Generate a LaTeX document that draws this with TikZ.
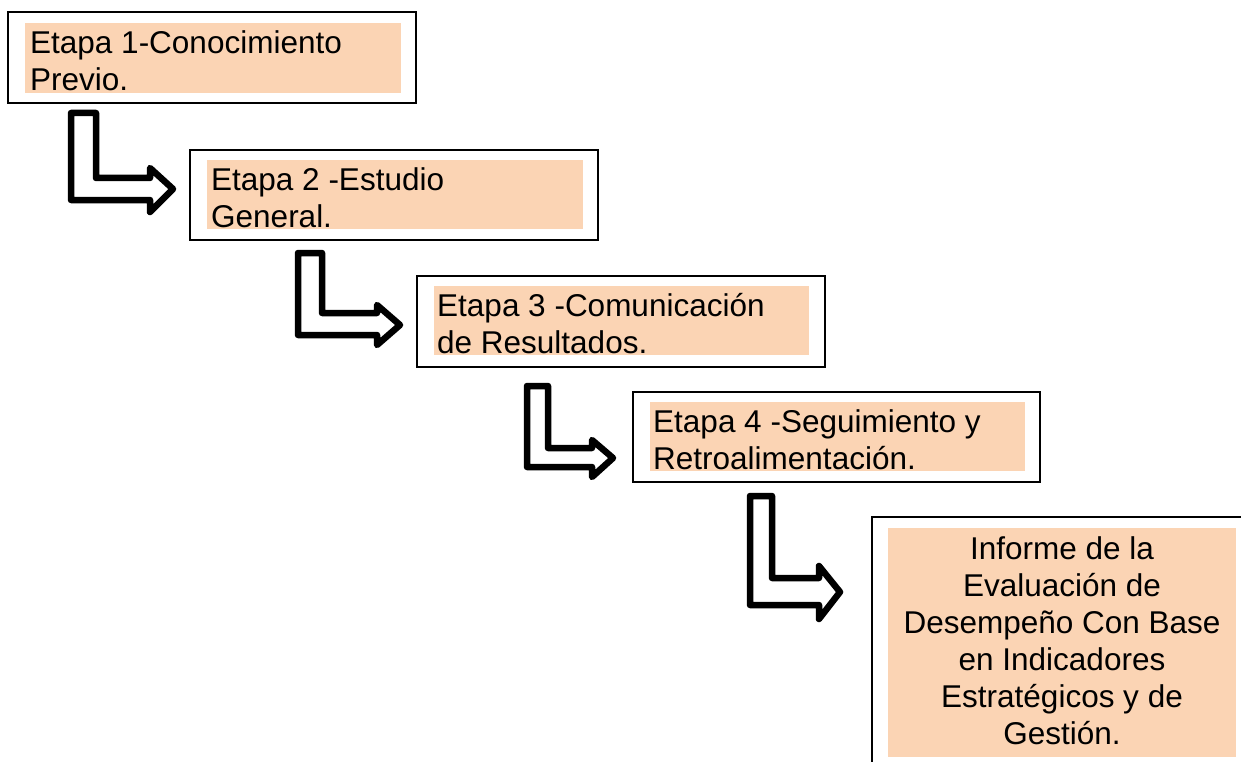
\documentclass[tikz,border=0pt]{standalone}
\usepackage{fontspec}
\setmainfont{Liberation Sans}
\definecolor{peach}{HTML}{FBD4B4}
\begin{document}
\begin{tikzpicture}[x=1pt,y=-1pt,
  outerbox/.style={draw=black,line width=1.6pt},
  fillbox/.style={fill=peach},
  label/.style={inner sep=0pt,anchor=north west,align=left,font=\fontsize{31.5}{37}\selectfont},
  blockarrow/.style={draw=black,line width=6.5pt,line join=round,fill=white}]
\useasboundingbox (0,0) rectangle (1241,762);
\begin{scope}
\clip (0,0) rectangle (1241,762);
% Box 1
\draw[outerbox] (8,12) rectangle (416,103);
\fill[fillbox] (25,23) rectangle (401,93);
\node[label] (t1) at (30,30) {Etapa 1-Conocimiento\\Previo.};
% Box 2
\draw[outerbox] (190,150) rectangle (598,240);
\fill[fillbox] (207,160) rectangle (583,229);
\node[label] (t2) at (211,167) {Etapa 2 -Estudio\\General.};
% Box 3
\draw[outerbox] (417,276) rectangle (825,367);
\fill[fillbox] (434,286) rectangle (809,355);
\node[label] (t3) at (437,293) {Etapa 3 -Comunicación\\de Resultados.};
% Box 4
\draw[outerbox] (633,392) rectangle (1040,482);
\fill[fillbox] (650,402) rectangle (1025,471);
\node[label] (t4) at (653,409) {Etapa 4 -Seguimiento y\\Retroalimentación.};
% Box 5
\draw[outerbox] (872,517) rectangle (1260,790);
\fill[fillbox] (888,528) rectangle (1236,757);
\node[label,anchor=north,align=center] (t5) at (1062,536) {Informe de la\\Evaluación de\\Desempeño Con Base\\en Indicadores\\Estratégicos y de\\Gestión.};
% Arrows
\draw[blockarrow] (71,113)--(96,113)--(96,178)--(150,178)--(150,168)--(173,189)--(150,212)--(150,200)--(71,200)--cycle;
\draw[blockarrow] (298,253)--(322,253)--(322,313)--(377,313)--(377,305)--(400,325)--(377,345)--(377,335)--(298,335)--cycle;
\draw[blockarrow] (527,386)--(548,386)--(548,448)--(592,448)--(592,440)--(613,458)--(592,477)--(592,467)--(527,467)--cycle;
\draw[blockarrow] (750,496)--(772,496)--(772,578)--(819,578)--(819,566)--(840,592)--(819,619)--(819,605)--(750,605)--cycle;
\end{scope}
\end{tikzpicture}
\end{document}
